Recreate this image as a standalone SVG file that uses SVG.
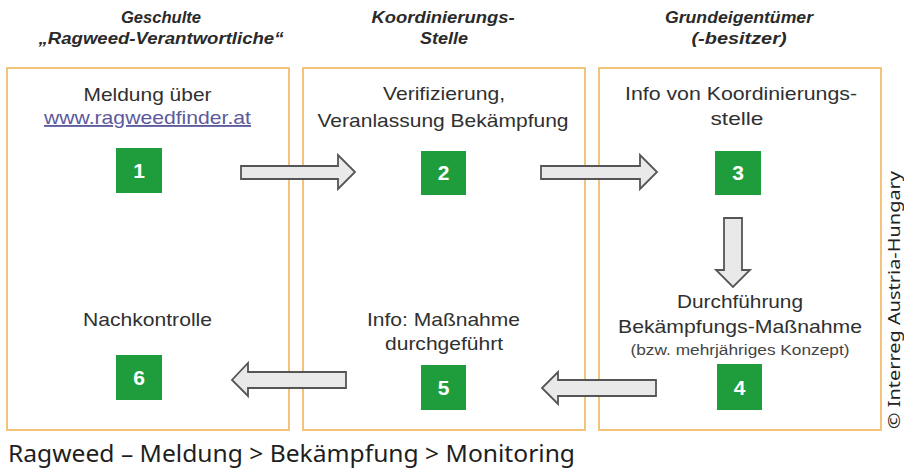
<svg xmlns="http://www.w3.org/2000/svg" width="904" height="468" viewBox="0 0 904 468">
<style>
.box{fill:#ffffff;stroke:#f3c27c;stroke-width:2}
.sq{fill:#1f9d3d}
.num{font-family:"Liberation Sans",Arial,sans-serif;font-weight:bold;font-size:21px;fill:#ffffff;text-anchor:middle}
.hdr{font-family:"Liberation Sans",Arial,sans-serif;font-weight:bold;font-style:italic;font-size:16px;fill:#2a2a2a;text-anchor:middle}
.t{font-family:"Liberation Sans",Arial,sans-serif;font-size:18.5px;fill:#303030;text-anchor:middle}
.s{font-family:"Liberation Sans",Arial,sans-serif;font-size:14px;fill:#444444;text-anchor:middle}
.link{fill:#5c5a9c;text-decoration:underline}
.arr{fill:#e9e9e9;stroke:#555555;stroke-width:1.8;stroke-linejoin:miter}
.cap{font-family:"Noto Sans","Open Sans",sans-serif;font-size:23px;fill:#1e1e1e}
.copy{font-family:"Noto Sans","Open Sans",sans-serif;font-size:16px;fill:#222222}
</style>
<rect width="904" height="468" fill="#ffffff"/>

<g id="headers">
<text class="hdr" x="161" y="23" textLength="80" lengthAdjust="spacingAndGlyphs">Geschulte</text>
<text class="hdr" x="161" y="44" textLength="245" lengthAdjust="spacingAndGlyphs">„Ragweed-Verantwortliche“</text>
<text class="hdr" x="443" y="23" textLength="143" lengthAdjust="spacingAndGlyphs">Koordinierungs-</text>
<text class="hdr" x="444" y="44" textLength="48" lengthAdjust="spacingAndGlyphs">Stelle</text>
<text class="hdr" x="739" y="23" textLength="148" lengthAdjust="spacingAndGlyphs">Grundeigentümer</text>
<text class="hdr" x="739" y="44" textLength="95" lengthAdjust="spacingAndGlyphs">(-besitzer)</text>
</g>

<g id="col1">
<rect class="box" x="7" y="68" width="282" height="362"/>
</g>
<g id="col2">
<rect class="box" x="303" y="68" width="282" height="362"/>
</g>
<g id="col3">
<rect class="box" x="599" y="68" width="282" height="362"/>
</g>

<g id="node1">
<text class="t" x="147.5" y="101" textLength="128" lengthAdjust="spacingAndGlyphs">Meldung über</text>
<text class="t link" x="147.5" y="124" textLength="207" lengthAdjust="spacingAndGlyphs">www.ragweedfinder.at</text>
<rect class="sq" x="116" y="148" width="46" height="45"/>
<text class="num" x="139" y="178">1</text>
</g>

<g id="node2">
<text class="t" x="444" y="100" textLength="122" lengthAdjust="spacingAndGlyphs">Verifizierung,</text>
<text class="t" x="443" y="127" textLength="251" lengthAdjust="spacingAndGlyphs">Veranlassung Bekämpfung</text>
<rect class="sq" x="421" y="151" width="45" height="44"/>
<text class="num" x="443.5" y="180">2</text>
</g>

<g id="node3">
<text class="t" x="741" y="100" textLength="232" lengthAdjust="spacingAndGlyphs">Info von Koordinierungs-</text>
<text class="t" x="737" y="125" textLength="53" lengthAdjust="spacingAndGlyphs">stelle</text>
<rect class="sq" x="715" y="151" width="46" height="44"/>
<text class="num" x="738" y="180">3</text>
</g>

<g id="node4">
<text class="t" x="740" y="308" textLength="126" lengthAdjust="spacingAndGlyphs">Durchführung</text>
<text class="t" x="740" y="333" textLength="244" lengthAdjust="spacingAndGlyphs">Bekämpfungs-Maßnahme</text>
<text class="s" x="740" y="355" textLength="219" lengthAdjust="spacingAndGlyphs">(bzw. mehrjähriges Konzept)</text>
<rect class="sq" x="717" y="364" width="45" height="46"/>
<text class="num" x="739.5" y="395">4</text>
</g>

<g id="node5">
<text class="t" x="443.5" y="326" textLength="153" lengthAdjust="spacingAndGlyphs">Info: Maßnahme</text>
<text class="t" x="444" y="350" textLength="118" lengthAdjust="spacingAndGlyphs">durchgeführt</text>
<rect class="sq" x="421" y="365" width="45" height="45"/>
<text class="num" x="443.5" y="395">5</text>
</g>

<g id="node6">
<text class="t" x="147.5" y="326" textLength="129" lengthAdjust="spacingAndGlyphs">Nachkontrolle</text>
<rect class="sq" x="116" y="355" width="46" height="45"/>
<text class="num" x="139" y="385">6</text>
</g>

<g id="connectors">
<polygon class="arr" points="241,166 338,166 338,155 355,172 338,189 338,179 241,179"/>
<polygon class="arr" points="541,166 640,166 640,155 657,172 640,189 640,179 541,179"/>
<polygon class="arr" points="724,218 742,218 742,270 750,270 733,287 716,270 724,270"/>
<polygon class="arr" points="656,380 558,380 558,372 542,388 558,404 558,396 656,396"/>
<polygon class="arr" points="346,372 248,372 248,363 232,380 248,396 248,388 346,388"/>
</g>

<text class="cap" x="8" y="462" textLength="567" lengthAdjust="spacingAndGlyphs">Ragweed – Meldung &gt; Bekämpfung &gt; Monitoring</text>
<text class="copy" transform="translate(900,429) rotate(-90)" textLength="258" lengthAdjust="spacingAndGlyphs">© Interreg Austria-Hungary</text>
</svg>
